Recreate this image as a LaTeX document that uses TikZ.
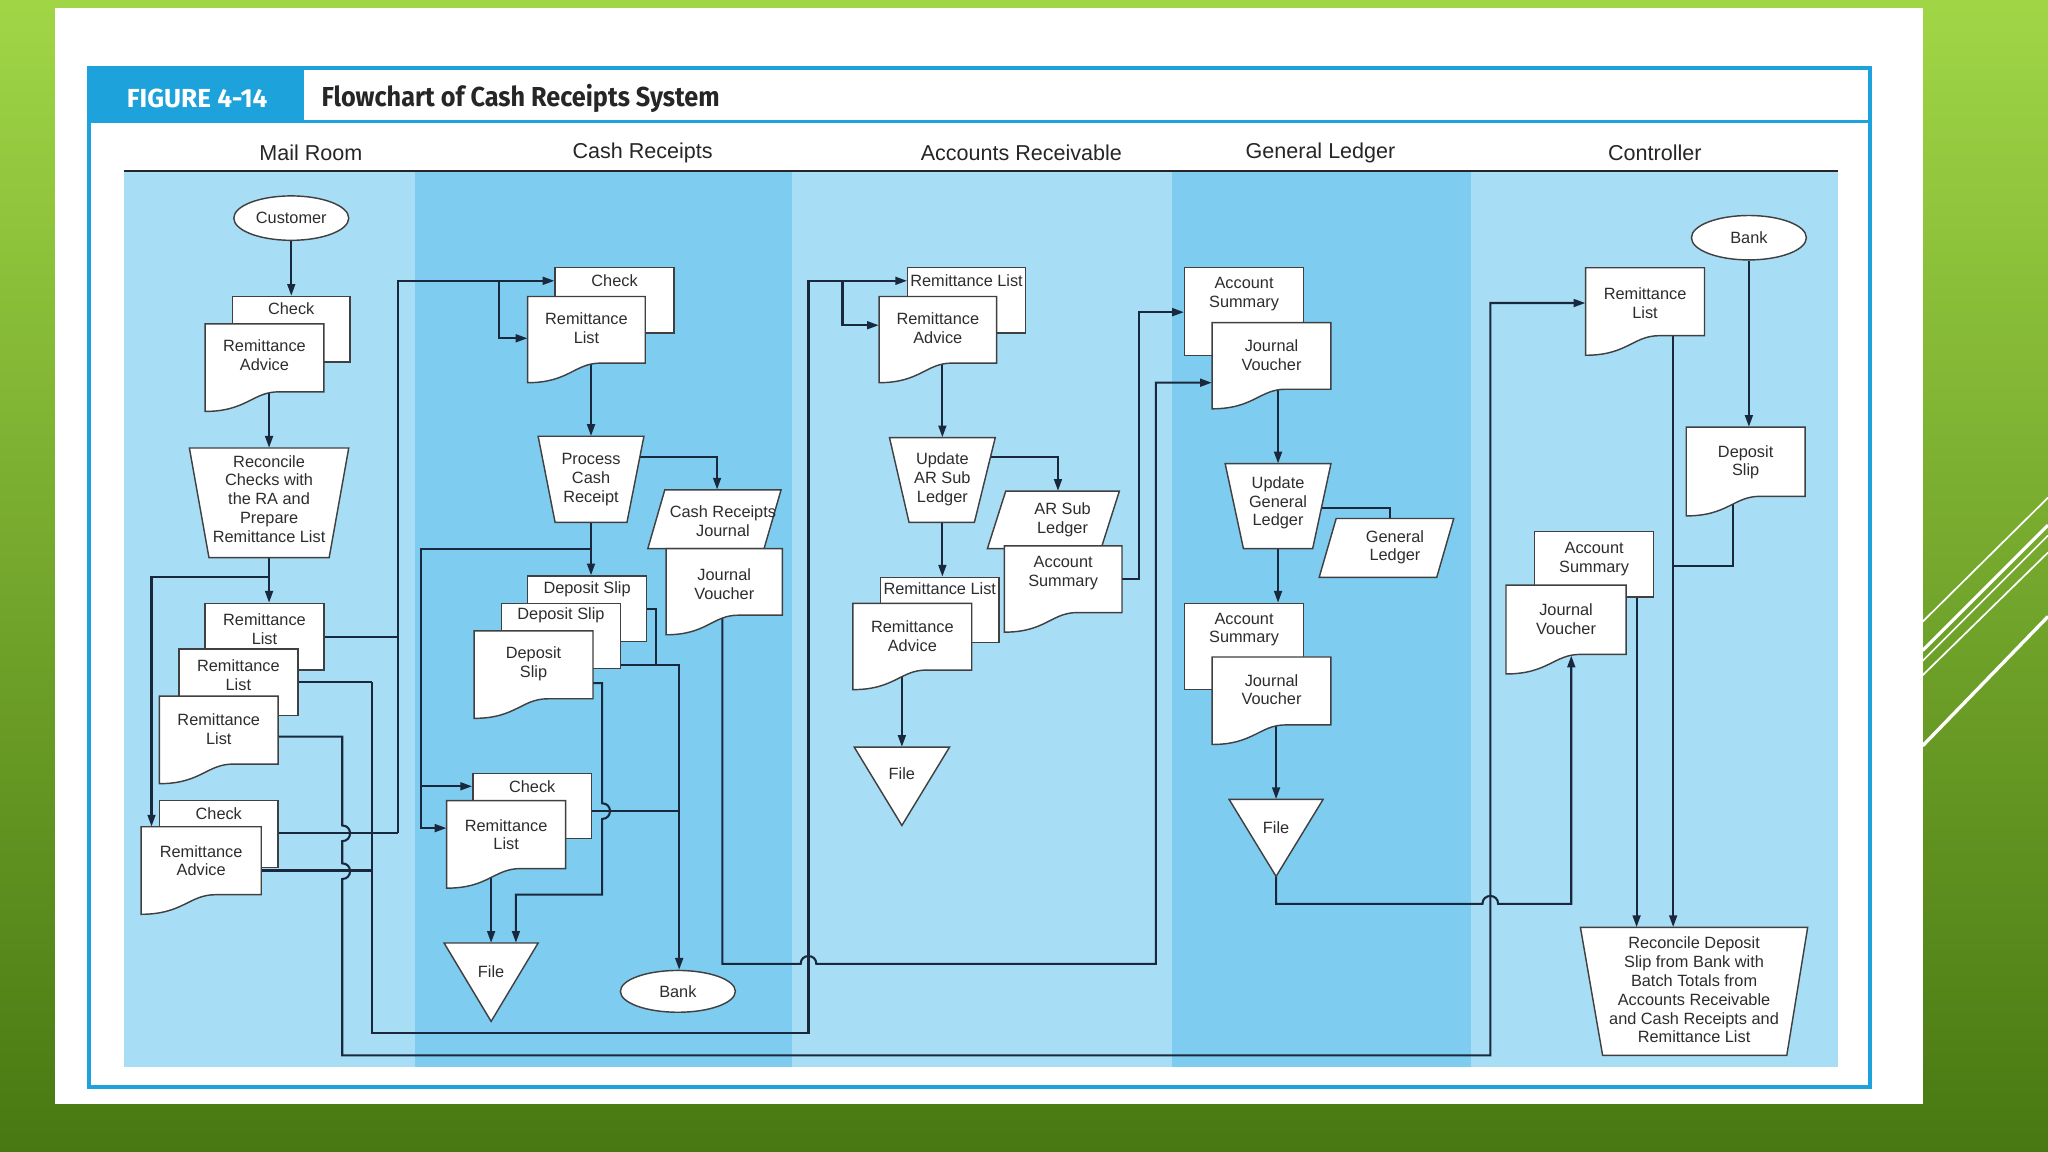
\documentclass[tikz,border=0pt]{standalone}
\usepackage{fontspec}
\setmainfont{Liberation Sans}
\newfontfamily\headfont{Fira Sans}
\newfontfamily\titlefont[FakeStretch=0.92]{Fira Sans}
\usetikzlibrary{arrows.meta,fit,shapes.geometric}
\pgfdeclarelayer{back}
\pgfdeclarelayer{conn}
\pgfsetlayers{back,conn,main}
\definecolor{slideGa}{RGB}{160,214,70}
\definecolor{slideGb}{RGB}{72,120,18}
\definecolor{frameblue}{RGB}{30,162,220}
\definecolor{laneL}{RGB}{168,221,246}
\definecolor{laneM}{RGB}{126,204,240}
\definecolor{lineC}{RGB}{25,40,60}
\definecolor{txtC}{RGB}{45,45,45}
\tikzset{
  shp/.style={draw=black!75, fill=white, line width=1.1pt},
  lbl/.style={align=center, font=\fontsize{12.5}{14.4}\selectfont, text=txtC, inner sep=0pt},
  con/.style={draw=lineC, line width=1.6pt},
  arr/.style={con, -{Triangle[length=9pt,width=6pt]}},
  lanehead/.style={font=\fontsize{16.5}{18}\selectfont, text=black!85, inner sep=0pt},
  deco/.style={draw=white, line width=#1},
}
% rectangular (back) document
\newcommand\rdoc[7]{%
  \node[shp, fit={(#2,#3)(#4,#5)}, inner sep=0pt] (#1) {};
  \node[lbl] (#1-t) at ({(#2+#4)/2},#6) {#7};}
% document with wavy bottom
\newcommand\wdoc[7]{%
  \path[shp] (#2,#3) -- (#4,#3) -- (#4,{#5-15}) -- ({#2+0.62*(#4-#2)},{#5-15})
     .. controls ({#2+0.4*(#4-#2)},{#5-15}) and ({#2+0.35*(#4-#2)},#5) .. (#2,#5) -- cycle;
  \node[fit={(#2,#3)(#4,#5)}, inner sep=0pt] (#1) {};
  \node[lbl] (#1-t) at ({(#2+#4)/2},#6) {#7};}
% four-corner shape (manual operation / parallelogram)
\newcommand\qshape[9]{%
  \path[shp] (#2,#4) -- (#3,#4) -- (#6,#7) -- (#5,#7) -- cycle;
  \node[fit={(#2,#4)(#3,#7)}, inner sep=0pt] (#1) {};
  \node[lbl] (#1-t) at ({(#2+#3)/2},#8) {#9};}
% file triangle
\newcommand\ftri[6]{%
  \path[shp] (#2,#4) -- (#3,#4) -- ({(#2+#3)/2},#5) -- cycle;
  \node[fit={(#2,#4)(#3,#5)}, inner sep=0pt] (#1) {};
  \node[lbl] (#1-t) at ({(#2+#3)/2},#6) {File};}
\begin{document}
\begin{tikzpicture}[x=1pt,y=-1pt]
\useasboundingbox (0,0) rectangle (1568,882);
\begin{pgfonlayer}{back}
  \shade[top color=slideGa, bottom color=slideGb] (0,0) rectangle (1568,882);
  \fill[white] (42,6) rectangle (1472,845);
  \draw[deco=1.3pt] (1472,476) -- (1568,381);
  \draw[deco=2.4pt] (1472,498) -- (1568,402);
  \draw[deco=1.3pt] (1472,506) -- (1568,410);
  \draw[deco=1.3pt] (1472,517) -- (1568,423);
  \draw[deco=2.6pt] (1472,571) -- (1568,472);
  % lanes
  \fill[laneL] (95,131) rectangle (318,817);
  \fill[laneM] (318,131) rectangle (606,817);
  \fill[laneL] (606,131) rectangle (897,817);
  \fill[laneM] (897,131) rectangle (1126,817);
  \fill[laneL] (1126,131) rectangle (1407,817);
  \draw[black!85, line width=1.5pt] (95,131) -- (1407,131);
  % frame
  \draw[frameblue, line width=3pt] (68,52) rectangle (1432,832);
  \fill[frameblue] (68,52) rectangle (233,93);
  \draw[frameblue, line width=3pt] (68,93) -- (1432,93);
\end{pgfonlayer}
\node[font=\headfont\bfseries\fontsize{20}{22}\selectfont, text=white, inner sep=0pt] (fig) at (151,75) {FIGURE 4-14};
\node[anchor=west, font=\titlefont\bfseries\fontsize{21}{23}\selectfont, text=black!85, inner sep=0pt] (ttl) at (246,75) {Flowchart of Cash Receipts System};
\node[lanehead] (h1) at (238,117) {Mail Room};
\node[lanehead] (h2) at (492,117) {Cash Receipts};
\node[lanehead] (h3) at (782,117) {Accounts Receivable};
\node[lanehead] (h4) at (1011,117) {General Ledger};
\node[lanehead] (h5) at (1267,117) {Controller};

% ---------- Mail Room ----------
\node[shp, ellipse, minimum width=88pt, minimum height=34pt, inner sep=0pt, font=\fontsize{12.5}{14.4}\selectfont, text=txtC] (cust) at (223,167) {Customer};
\rdoc{mchk}{178}{227}{268}{277}{236}{Check}
\wdoc{mra}{157}{248}{248}{315}{272}{Remittance\\Advice}
\qshape{mrec}{145}{267}{343}{160}{252}{427}{382}{Reconcile\\Checks with\\the RA and\\Prepare\\Remittance List}
\rdoc{mrl1}{157}{462}{248}{513}{482}{Remittance\\List}
\rdoc{mrl2}{137}{497}{228}{548}{517}{Remittance\\List}
\wdoc{mrl3}{122}{533}{213}{600}{558}{Remittance\\List}
\rdoc{mchk2}{122}{613}{213}{664}{623}{Check}
\wdoc{mra2}{108}{633}{200}{700}{659}{Remittance\\Advice}

% ---------- Cash Receipts ----------
\rdoc{cchk}{425}{205}{516}{255}{215}{Check}
\wdoc{crl}{404}{227}{494}{293}{251}{Remittance\\List}
\qshape{cproc}{412}{493}{334}{425}{480}{400}{367}{Process\\Cash\\Receipt}
\qshape{ccrj}{509}{598}{375}{496}{585}{420}{399}{Cash Receipts\\Journal}
\wdoc{cjv}{510}{420}{599}{486}{447}{Journal\\Voucher}
\rdoc{cds1}{404}{441}{495}{491}{451}{Deposit Slip}
\rdoc{cds2}{384}{462}{475}{512}{471}{Deposit Slip}
\wdoc{cds3}{363}{483}{454}{550}{508}{Deposit\\Slip}
\rdoc{cchk2}{362}{592}{453}{642}{602}{Check}
\wdoc{crl2}{342}{613}{433}{680}{639}{Remittance\\List}
\ftri{cfile}{340}{412}{722}{782}{744}
\node[shp, ellipse, minimum width=88pt, minimum height=32pt, inner sep=0pt, font=\fontsize{12.5}{14.4}\selectfont, text=txtC] (cbank) at (519,759) {Bank};

% ---------- Accounts Receivable ----------
\rdoc{arl}{695}{205}{785}{255}{215}{Remittance List}
\wdoc{ara}{673}{227}{763}{293}{251}{Remittance\\Advice}
\qshape{aupd}{681}{762}{335}{696}{746}{400}{367}{Update\\AR Sub\\Ledger}
\qshape{asl}{770}{857}{376}{756}{843}{420}{398}{AR Sub\\Ledger}
\wdoc{aas}{769}{418}{859}{484}{439}{Account\\Summary}
\rdoc{arl2}{674}{442}{765}{492}{451}{Remittance List}
\wdoc{ara2}{653}{462}{744}{528}{487}{Remittance\\Advice}
\ftri{afile}{654}{727}{572}{632}{592}

% ---------- General Ledger ----------
\rdoc{gas}{907}{205}{998}{272}{225}{Account\\Summary}
\wdoc{gjv}{928}{247}{1019}{313}{272}{Journal\\Voucher}
\qshape{gupd}{938}{1019}{355}{952}{1005}{420}{385}{Update\\General\\Ledger}
\qshape{ggl}{1023}{1113}{397}{1010}{1100}{442}{419}{General\\Ledger}
\rdoc{gas2}{907}{462}{998}{528}{482}{Account\\Summary}
\wdoc{gjv2}{928}{503}{1019}{570}{528}{Journal\\Voucher}
\ftri{gfile}{941}{1013}{612}{671}{634}

% ---------- Controller ----------
\node[shp, ellipse, minimum width=88pt, minimum height=34pt, inner sep=0pt, font=\fontsize{12.5}{14.4}\selectfont, text=txtC] (kbank) at (1339,182) {Bank};
\wdoc{krl}{1214}{205}{1305}{272}{232}{Remittance\\List}
\wdoc{kds}{1291}{327}{1382}{395}{354}{Deposit\\Slip}
\rdoc{kas}{1175}{407}{1266}{457}{428}{Account\\Summary}
\wdoc{kjv}{1153}{448}{1245}{516}{474}{Journal\\Voucher}
\qshape{krec}{1210}{1384}{710}{1227}{1368}{808}{758}{Reconcile Deposit\\Slip from Bank with\\Batch Totals from\\Accounts Receivable\\and Cash Receipts and\\Remittance List}

% ---------- connectors ----------
\begin{pgfonlayer}{conn}
% mail room
\draw[arr] (cust.south) -- (cust.south |- mchk.north);
\draw[arr] (mrec.north |- mra.center) -- (mrec.north);
\draw[arr] (mrec.south) -- (mrec.south |- mrl1.north);
\coordinate (m1) at (116,442);
\draw[arr] (mrec.south |- m1) -- (m1) -- (m1 |- mra2.north);
% to cash receipts
\coordinate (v1t) at (305,215);
\coordinate (v1b) at (305,638);
\coordinate (v1m) at (382,215);
\coordinate (v1n) at (382,259);
\draw[con] (mrl1.center) -- (mrl1.center -| v1t);
\draw[con] (mchk2.center |- v1b) -- (v1b);
\draw[arr] (v1b) -- (v1t) -- (v1t -| cchk.west);
\draw[arr] (v1m) -- (v1n) -- (v1n -| crl.west);
% to accounts receivable
\coordinate (v2) at (285,791);
\coordinate (v3) at (619,215);
\coordinate (v3m) at (645,215);
\coordinate (v3n) at (645,249);
\draw[con] (mrl2.center) -- (mrl2.center -| v2);
\draw[con] (mra2.center) -- (mra2.center -| v2);
\draw[arr] (mrl2.center -| v2) -- (v2) -- (v2 -| v3) -- (v3) -- (v3 -| arl.west);
\draw[arr] (v3m) -- (v3n) -- (v3n -| ara.west);
% to controller
\coordinate (v4) at (262,808);
\coordinate (v5) at (1141,232);
\draw[arr] (mrl3.center |- 0,564) -- (262,564) -- (262,632)
   .. controls (270,632) and (270,644) .. (262,644) -- (262,661)
   .. controls (270,661) and (270,673) .. (262,673) -- (v4) -- (v4 -| v5) -- (v5) -- (v5 -| krl.west);
% cash receipts
\draw[arr] (cproc.north |- crl.center) -- (cproc.north);
\coordinate (c1) at (549,350);
\draw[arr] (cproc.center |- c1) -- (c1) -- (c1 |- ccrj.north);
\draw[arr] (cproc.center) -- (cproc.center |- cds1.north);
\coordinate (c2) at (322,420);
\coordinate (c3) at (322,634);
\coordinate (c4) at (322,602);
\draw[arr] (cproc.center |- c2) -- (c2) -- (c3) -- (c3 -| crl2.west);
\draw[arr] (c4) -- (c4 -| cchk2.west);
\coordinate (c5) at (553,738);
\coordinate (c6) at (885,293);
\draw[arr] (c5 |- cjv.center) -- (c5) -- (613,738) .. controls (613,730) and (625,730) .. (625,738)
   -- (c5 -| c6) -- (c6) -- (c6 -| gjv.west);
\coordinate (c7) at (502,466);
\coordinate (c8) at (520,509);
\coordinate (c9) at (520,621);
\draw[con] (cds1.center |- c7) -- (c7) -- (c7 |- c8);
\draw[arr] (cds2.center |- c8) -- (c8) -- (c8 |- cbank.north);
\draw[con] (cchk2.center |- c9) -- (c9);
\coordinate (c10) at (461,523);
\coordinate (c11) at (395,685);
\draw[arr] (cds3.center |- c10) -- (c10) -- (461,615) .. controls (469,615) and (469,627) .. (461,627)
   -- (461,685) -- (c11) -- (c11 |- cfile.north);
\draw[arr] (crl2.center -| cfile.north) -- (cfile.north);
% accounts receivable
\draw[arr] (aupd.north |- ara.center) -- (aupd.north);
\coordinate (a1) at (810,350);
\draw[arr] (aupd.center |- a1) -- (a1) -- (a1 |- asl.north);
\draw[arr] (aupd.center) -- (aupd.center |- arl2.north);
\draw[arr] (afile.north |- ara2.center) -- (afile.north);
\coordinate (a2) at (872,443);
\coordinate (a3) at (872,239);
\draw[arr] (aas.center |- a2) -- (a2) -- (a3) -- (a3 -| gas.west);
% general ledger
\draw[arr] (gupd.north |- gjv.center) -- (gupd.north);
\coordinate (g1) at (1064,389);
\draw[con] (gupd.center |- g1) -- (g1) -- (g1 |- ggl.north);
\draw[arr] (gupd.center) -- (gupd.center |- gas2.north);
\draw[arr] (gfile.north |- gjv2.center) -- (gfile.north);
\coordinate (g2) at (977,692);
\coordinate (g3) at (1203,692);
\draw[arr] (gfile.center) -- (g2) -- (1135,692) .. controls (1135,684) and (1147,684) .. (1147,692)
   -- (g3) -- (1203,502);
% controller
\draw[arr] (kbank.south) -- (kbank.south |- kds.north);
\coordinate (k1) at (1327,433);
\coordinate (k2) at (1281,433);
\draw[con] (k1 |- kds.center) -- (k1) -- (k2);
\draw[arr] (k2 |- krl.center) -- (k2 |- krec.north);
\coordinate (k3) at (1253,457);
\draw[arr] (k3 |- kas.center) -- (k3 |- krec.north);
\end{pgfonlayer}
\end{tikzpicture}
\end{document}
